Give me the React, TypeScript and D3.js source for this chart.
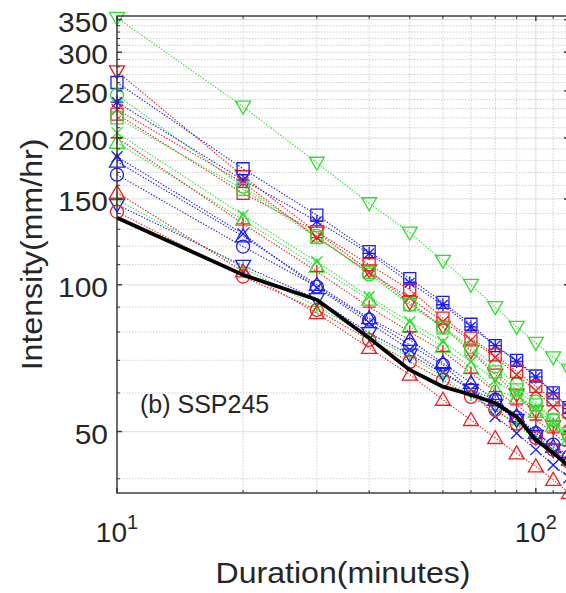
import React from 'react';
import * as d3 from 'd3';

// Durations (minutes)
const durations = [10, 20, 30, 40, 50, 60, 70, 80, 90, 100, 110, 120];

// Intensity (mm/hr) per model series
const greenDown = [353, 232, 178, 147, 128, 112, 100, 90, 82, 76, 71, 67];
const redDown = [274, 167, 128, 107, 92, 82, 73, 65.4, 59.5, 55, 51.2, 48.1];
const blueSquare = [260, 173, 139, 117, 103, 92, 83, 75, 70, 65, 60, 56];
const blueStar = [237, 164, 135, 116, 101, 91, 82, 75, 69.6, 64.7, 60, 55.8];
const greenCircle = [245, 159, 126, 105, 91, 82, 74.5, 68, 62.4, 57.6, 52.8, 49];
const redCross = [229, 162, 125, 106, 94, 84, 77, 71, 65.4, 60.6, 56.2, 52.3];
const redSquare = [224, 154, 128.5, 110, 97.7, 85.4, 77.7, 71.8, 66.4, 61.9, 58.1, 54.9];
const greenSquare = [220, 157, 125, 106, 91, 81.6, 73.6, 66.3, 60.9, 56.7, 52.8, 49.5];
const greenCross = [205, 139, 111.5, 94.5, 84, 76.4, 69.5, 63.8, 59.5, 55.7, 52.1, 48.8];
const greenUp = [195.6, 135.9, 109, 93.2, 82.1, 74.7, 67.5, 60.9, 58.6, 54.9, 51.4, 48.1];
const redPlus = [200.3, 133.4, 106.5, 90, 80.1, 73, 65.9, 60.4, 56.7, 52.8, 49.7, 46.7];
const blueUp = [178.9, 125.7, 100, 85.4, 77.1, 69.1, 62.9, 58.1, 53.8, 49.7, 46.5, 43.8];
const blueCross = [183.1, 127.2, 98.6, 83.6, 73.6, 66.3, 60.9, 53.7, 49.6, 45.9, 42.7, 40.2];
const blueCircle = [168.2, 119.8, 99.1, 84.8, 75.3, 68.5, 60.9, 58.1, 53.4, 49.6, 47, 44.4];
const blueDown = [146, 109.4, 93.5, 79.6, 71.9, 65.9, 60.9, 56.7, 52.8, 49, 45.9, 43.1];
const greenPlus = [149.4, 108.4, 90.3, 78.3, 71.2, 64.8, 59.5, 55.4, 51.6, 48.1, 45.4, 42.7];
const redCircle = [141.2, 104, 88.8, 77.1, 69.5, 63.8, 58.9, 55.4, 51.9, 48.5, 45.9, 43.3];
const redUp = [154.5, 106.5, 87.5, 74.2, 65.4, 58.1, 52.8, 48.5, 45.1, 42.4, 39.8, 37.4];
const observed = [137.3, 104.8, 93.2, 77.8, 66.9, 61.8, 59.5, 57.2, 53.6, 48.1, 45.2, 42.4];

const yTicks = [50, 100, 150, 200, 250, 300, 350];
const yMinorTicks = [40, 60, 70, 80, 90, 110, 120, 130, 140, 160, 170, 180, 190, 210, 220, 230, 240, 260, 270, 280, 290, 310, 320, 330, 340];
const xTicks = [10, 100];
const xTickExponents = ['1', '2'];
const xMinorTicks = [20, 30, 40, 50, 60, 70, 80, 90, 110, 120];

const xLabel = 'Duration(minutes)';
const yLabel = 'Intensity(mm/hr)';
const panelLabel = '(b) SSP245';

const RED = '#f01c1c';
const GREEN = '#2ee02e';
const BLUE = '#1c1cf5';

const series = [
  { values: greenDown, color: GREEN, marker: 'v' },
  { values: redDown, color: RED, marker: 'v' },
  { values: blueSquare, color: BLUE, marker: 's' },
  { values: greenCircle, color: GREEN, marker: 'o' },
  { values: blueStar, color: BLUE, marker: '*' },
  { values: redCross, color: RED, marker: 'x' },
  { values: redSquare, color: RED, marker: 's' },
  { values: greenSquare, color: GREEN, marker: 's' },
  { values: greenCross, color: GREEN, marker: 'x' },
  { values: greenUp, color: GREEN, marker: '^' },
  { values: redPlus, color: RED, marker: '+' },
  { values: blueCross, color: BLUE, marker: 'x' },
  { values: blueUp, color: BLUE, marker: '^' },
  { values: blueCircle, color: BLUE, marker: 'o' },
  { values: greenPlus, color: GREEN, marker: '+' },
  { values: blueDown, color: BLUE, marker: 'v' },
  { values: redCircle, color: RED, marker: 'o' },
  { values: redUp, color: RED, marker: '^' },
];

const W = 566;
const H = 593;
const left = 117;
const right = 569;
const top = 16;
const bottom = 493;

const FONT = '"Liberation Sans", Arial, Helvetica, sans-serif';

function markerPath(type: string, x: number, y: number): string {
  const s = 6.5;
  switch (type) {
    case 'o': {
      const r = 6.5;
      return `M${x - r},${y}a${r},${r} 0 1,0 ${2 * r},0a${r},${r} 0 1,0 ${-2 * r},0Z`;
    }
    case 's': {
      const h = 6;
      return `M${x - h},${y - h}H${x + h}V${y + h}H${x - h}Z`;
    }
    case '^':
      return `M${x},${y - 7.5}L${x + 7.5},${y + 5.5}L${x - 7.5},${y + 5.5}Z`;
    case 'v':
      return `M${x},${y + 7.5}L${x + 7.5},${y - 5.5}L${x - 7.5},${y - 5.5}Z`;
    case '+':
      return `M${x - s},${y}H${x + s}M${x},${y - s}V${y + s}`;
    case 'x':
      return `M${x - 5.5},${y - 5.5}L${x + 5.5},${y + 5.5}M${x - 5.5},${y + 5.5}L${x + 5.5},${y - 5.5}`;
    case '*':
      return `M${x - s},${y}H${x + s}M${x},${y - s}V${y + s}M${x - 4.8},${y - 4.8}L${x + 4.8},${y + 4.8}M${x - 4.8},${y + 4.8}L${x + 4.8},${y - 4.8}`;
    default:
      return '';
  }
}

export default function App() {
  const x = d3.scaleLog().domain([10, 120]).range([left, right]);
  const y = d3.scaleLog().domain([37.4, 356]).range([bottom, top]);
  const line = d3
    .line<number>()
    .x((_, i) => x(durations[i]))
    .y((d) => y(d));

  const tickColor = '#262626';

  return (
    <svg
      width={W}
      height={H}
      style={{ position: 'absolute', left: 0, top: 0, background: '#fff', overflow: 'hidden' }}
    >
      <rect x={0} y={0} width={W} height={H} fill="#fff" />
      {/* grid */}
      <g>
        {yMinorTicks.map((t) => (
          <line key={'ym' + t} x1={left} x2={right} y1={y(t)} y2={y(t)} stroke="#cfcfcf" strokeWidth={1} strokeDasharray="1.5 1.5" />
        ))}
        {xMinorTicks.map((t) => (
          <line key={'xm' + t} x1={x(t)} x2={x(t)} y1={top} y2={bottom} stroke="#cfcfcf" strokeWidth={1} strokeDasharray="1.5 1.5" />
        ))}
        {yTicks.map((t) => (
          <line key={'yg' + t} x1={left} x2={right} y1={y(t)} y2={y(t)} stroke="#e3e3e3" strokeWidth={1.2} />
        ))}
        {xTicks.map((t) => (
          <line key={'xg' + t} x1={x(t)} x2={x(t)} y1={top} y2={bottom} stroke="#e3e3e3" strokeWidth={1.2} />
        ))}
      </g>
      {/* series */}
      <g>
        {series.map((s, i) => (
          <path key={'l' + i} d={line(s.values) || ''} fill="none" stroke={s.color} strokeWidth={1.1} strokeDasharray="1.4 1.6" />
        ))}
        {series.map((s, i) => (
          <g key={'m' + i}>
            {s.values.map((v, j) => (
              <path key={j} d={markerPath(s.marker, x(durations[j]), y(v))} fill="none" stroke={s.color} strokeWidth={1.3} />
            ))}
          </g>
        ))}
        <path d={line(observed) || ''} fill="none" stroke="#000" strokeWidth={3.8} strokeLinejoin="round" />
      </g>
      {/* axes box */}
      <g stroke="#333" strokeWidth={1.4} fill="none">
        <rect x={left} y={top} width={right - left} height={bottom - top} />
        {yTicks.map((t) => (
          <g key={'yt' + t}>
            <line x1={left} x2={left + 5} y1={y(t)} y2={y(t)} />
            <line x1={right} x2={right - 5} y1={y(t)} y2={y(t)} />
          </g>
        ))}
        {yMinorTicks.map((t) => (
          <g key={'ymt' + t}>
            <line x1={left} x2={left + 3} y1={y(t)} y2={y(t)} strokeWidth={1} />
            <line x1={right} x2={right - 3} y1={y(t)} y2={y(t)} strokeWidth={1} />
          </g>
        ))}
        {xTicks.map((t) => (
          <g key={'xt' + t}>
            <line x1={x(t)} x2={x(t)} y1={bottom} y2={bottom - 5} />
            <line x1={x(t)} x2={x(t)} y1={top} y2={top + 5} />
          </g>
        ))}
        {xMinorTicks.map((t) => (
          <g key={'xmt' + t}>
            <line x1={x(t)} x2={x(t)} y1={bottom} y2={bottom - 3} strokeWidth={1} />
            <line x1={x(t)} x2={x(t)} y1={top} y2={top + 3} strokeWidth={1} />
          </g>
        ))}
      </g>
      {/* tick labels */}
      <g fontFamily={FONT} fill={tickColor}>
        {yTicks.map((t) => (
          <text key={'yl' + t} transform={`translate(${left - 9},${y(t) + 12}) scale(1.07,1)`} textAnchor="end" fontSize={28}>
            {t}
          </text>
        ))}
        {xTicks.map((t, i) => (
          <text key={'xl' + t} x={x(t)} y={542} textAnchor="middle" fontSize={28}>
            10
            <tspan dy={-13} fontSize={20}>
              {xTickExponents[i]}
            </tspan>
          </text>
        ))}
        <text transform={`translate(${(left + right) / 2},583) scale(1.07,1)`} textAnchor="middle" fontSize={30}>
          {xLabel}
        </text>
        <text transform={`translate(42,${(top + bottom) / 2}) rotate(-90) scale(1.07,1)`} textAnchor="middle" fontSize={30}>
          {yLabel}
        </text>
        <text x={140} y={413} fontSize={25}>
          {panelLabel}
        </text>
      </g>
    </svg>
  );
}
